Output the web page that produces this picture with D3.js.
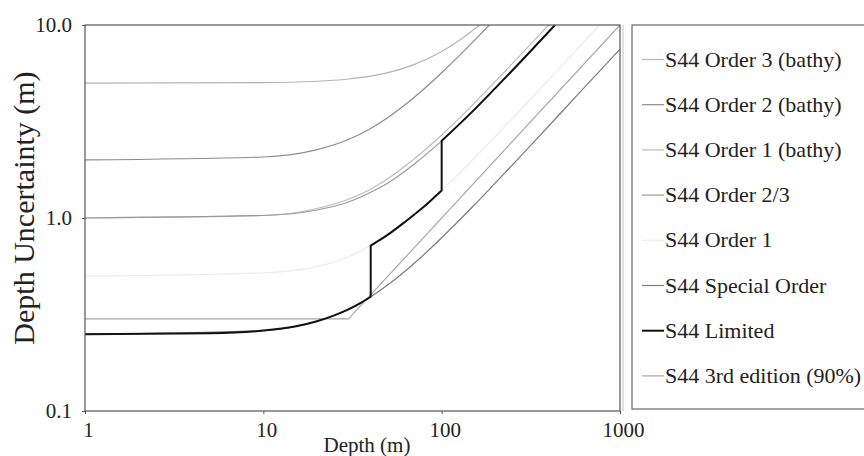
<!DOCTYPE html>
<html>
<head>
<meta charset="utf-8">
<script src="https://cdn.jsdelivr.net/npm/d3@7"></script>
<style>
  body { margin: 0; background: #fff; }
  text { font-family: "Liberation Serif", "Times New Roman", serif; fill: #222; }
</style>
</head>
<body>
<div id="chart"></div>
<script>
// Series data (depth in m, uncertainty in m)
var order3BathyDepth = [1, 10, 20, 30, 40, 50, 70, 100, 130, 163];
var order3BathyTvu = [5.00, 5.03, 5.11, 5.25, 5.43, 5.66, 6.23, 7.29, 8.51, 10.0];

var order2BathyDepth = [1, 10, 20, 30, 40, 50, 70, 100, 130, 160, 185];
var order2BathyTvu = [2.00, 2.07, 2.26, 2.55, 2.91, 3.32, 4.21, 5.66, 7.17, 8.71, 10.0];

var order1BathyDepth = [1, 10, 20, 30, 40, 50, 70, 100, 150, 200, 300, 398];
var order1BathyTvu = [1.00, 1.03, 1.12, 1.25, 1.41, 1.60, 2.02, 2.69, 3.88, 5.10, 7.57, 10.0];

var order23Depth = [1, 10, 20, 30, 40, 50, 70, 100, 150, 200, 300, 432];
var order23Tvu = [1.00, 1.03, 1.10, 1.21, 1.36, 1.52, 1.90, 2.51, 3.59, 4.71, 6.97, 10.0];

var order1Depth = [1, 10, 20, 30, 40, 50, 70, 100, 150, 200, 300, 500, 768];
var order1Tvu = [0.50, 0.52, 0.56, 0.63, 0.72, 0.82, 1.04, 1.39, 2.01, 2.65, 3.93, 6.52, 10.0];

var specialDepth = [1, 10, 20, 30, 40, 50, 70, 100, 150, 200, 300, 500, 700, 1000];
var specialTvu = [0.250, 0.261, 0.292, 0.336, 0.391, 0.451, 0.581, 0.790, 1.15, 1.52, 2.26, 3.76, 5.26, 7.50];

var limitedDepth = [1, 5, 10, 15, 20, 25, 30, 35, 40, 40, 50, 60, 70, 80, 90, 100, 100, 150, 200, 300, 432];
var limitedTvu = [0.250, 0.253, 0.261, 0.274, 0.292, 0.313, 0.336, 0.362, 0.391, 0.72, 0.82, 0.93, 1.04, 1.15, 1.27, 1.39, 2.51, 3.59, 4.71, 6.97, 10.0];

var thirdEdDepth = [1, 30, 1000];
var thirdEdTvu = [0.3, 0.3, 10.0];

var legendNames = ["S44 Order 3 (bathy)", "S44 Order 2 (bathy)", "S44 Order 1 (bathy)",
  "S44 Order 2/3", "S44 Order 1", "S44 Special Order", "S44 Limited", "S44 3rd edition (90%)"];

var xTicks = [1, 10, 100, 1000];
var yTicks = [0.1, 1, 10];
var yTickLabels = ["0.1", "1.0", "10.0"];

// SVG area
var svgWidth = 864;
var svgHeight = 456;

var plot = { left: 85, right: 620, top: 25, bottom: 411 };

var svg = d3.select("#chart")
  .append("svg")
  .attr("width", svgWidth)
  .attr("height", svgHeight);

svg.append("rect")
  .attr("width", svgWidth)
  .attr("height", svgHeight)
  .attr("fill", "#fff");

// log scales on both axes
var xScale = d3.scaleLog().domain([1, 1000]).range([plot.left, plot.right]);
var yScale = d3.scaleLog().domain([0.1, 10]).range([plot.bottom, plot.top]);

svg.append("clipPath")
  .attr("id", "plotClip")
  .append("rect")
  .attr("x", plot.left)
  .attr("y", plot.top)
  .attr("width", plot.right - plot.left)
  .attr("height", plot.bottom - plot.top);

// series list: drawn light first, black last
var series = [
  { name: legendNames[4], depth: order1Depth, tvu: order1Tvu, color: "#ececec", width: 1.2, curve: d3.curveMonotoneX },
  { name: legendNames[0], depth: order3BathyDepth, tvu: order3BathyTvu, color: "#b4b4b4", width: 1.2, curve: d3.curveMonotoneX },
  { name: legendNames[1], depth: order2BathyDepth, tvu: order2BathyTvu, color: "#8c8c8c", width: 1.2, curve: d3.curveMonotoneX },
  { name: legendNames[2], depth: order1BathyDepth, tvu: order1BathyTvu, color: "#bcbcbc", width: 1.2, curve: d3.curveMonotoneX },
  { name: legendNames[3], depth: order23Depth, tvu: order23Tvu, color: "#9a9a9a", width: 1.2, curve: d3.curveMonotoneX },
  { name: legendNames[7], depth: thirdEdDepth, tvu: thirdEdTvu, color: "#a8a8a8", width: 1.2, curve: d3.curveLinear },
  { name: legendNames[5], depth: specialDepth, tvu: specialTvu, color: "#7c7c7c", width: 1.2, curve: d3.curveMonotoneX },
  { name: legendNames[6], depth: limitedDepth, tvu: limitedTvu, color: "#111", width: 2, curve: d3.curveMonotoneX }
];

// builds one path; a repeated depth means a vertical jump, so split there
function seriesPath(s) {
  var line = d3.line()
    .x(d => xScale(d[0]))
    .y(d => yScale(d[1]))
    .curve(s.curve);
  var segments = [];
  var current = [];
  s.depth.forEach(function(d, i) {
    if (i > 0 && d === s.depth[i - 1]) {
      segments.push(current);
      current = [];
    }
    current.push([d, s.tvu[i]]);
  });
  segments.push(current);
  return segments.map(function(seg, i) {
    var p = line(seg);
    return i === 0 ? p : "L" + p.slice(1);
  }).join("");
}

var lineGroup = svg.append("g").attr("clip-path", "url(#plotClip)");

lineGroup.selectAll("path")
  .data(series)
  .enter()
  .append("path")
  .attr("d", d => seriesPath(d))
  .attr("fill", "none")
  .attr("stroke", d => d.color)
  .attr("stroke-width", d => d.width)
  .attr("stroke-linejoin", "round");

// plot frame
svg.append("rect")
  .attr("x", plot.left)
  .attr("y", plot.top)
  .attr("width", plot.right - plot.left)
  .attr("height", plot.bottom - plot.top)
  .attr("fill", "none")
  .attr("stroke", "#555")
  .attr("stroke-width", 1.2);

svg.append("line")
  .attr("x1", plot.right + 3).attr("x2", plot.right + 3)
  .attr("y1", plot.top).attr("y2", plot.bottom)
  .attr("stroke", "#c4c4c4")
  .attr("stroke-width", 1);

// x axis
var bottomAxis = d3.axisBottom(xScale)
  .tickValues(xTicks)
  .tickFormat(d3.format("d"))
  .tickSize(3)
  .tickPadding(8);

var xAxis = svg.append("g")
  .attr("transform", `translate(0, ${plot.bottom})`)
  .call(bottomAxis);

xAxis.select(".domain").remove();
xAxis.selectAll("line").attr("stroke", "#555");
xAxis.selectAll("text")
  .attr("font-size", "21px")
  .attr("dx", "3px")
  .style("font-family", "Liberation Serif, serif");

// y axis
var leftAxis = d3.axisLeft(yScale)
  .tickValues(yTicks)
  .tickFormat((d, i) => yTickLabels[i])
  .tickSize(3)
  .tickPadding(10);

var yAxis = svg.append("g")
  .attr("transform", `translate(${plot.left}, 0)`)
  .call(leftAxis);

yAxis.select(".domain").remove();
yAxis.selectAll("line").attr("stroke", "#555");
yAxis.selectAll("text")
  .attr("font-size", "21px")
  .style("font-family", "Liberation Serif, serif");

// axis titles
svg.append("text")
  .attr("transform", "translate(34, 208) rotate(-90)")
  .attr("text-anchor", "middle")
  .attr("font-size", "30px")
  .text("Depth Uncertainty (m)");

svg.append("text")
  .attr("x", 367)
  .attr("y", 452)
  .attr("text-anchor", "middle")
  .attr("font-size", "21px")
  .text("Depth (m)");

// legend
var legendGroup = svg.append("g");

legendGroup.append("rect")
  .attr("x", 632)
  .attr("y", plot.top)
  .attr("width", 250)
  .attr("height", 384)
  .attr("fill", "#fff")
  .attr("stroke", "#666")
  .attr("stroke-width", 1.2);

var legendItems = legendNames.map(function(name) {
  return series.find(s => s.name === name);
});

var legendRows = legendGroup.selectAll("g.item")
  .data(legendItems)
  .enter()
  .append("g")
  .classed("item", true)
  .attr("transform", (d, i) => `translate(0, ${66.5 + i * 45.2})`);

legendRows.append("line")
  .attr("x1", 642)
  .attr("x2", 664)
  .attr("y1", -7)
  .attr("y2", -7)
  .attr("stroke", d => d.color)
  .attr("stroke-width", d => d.width);

legendRows.append("text")
  .attr("x", 665)
  .attr("y", 0)
  .attr("font-size", "22px")
  .text(d => d.name);
</script>
</body>
</html>
